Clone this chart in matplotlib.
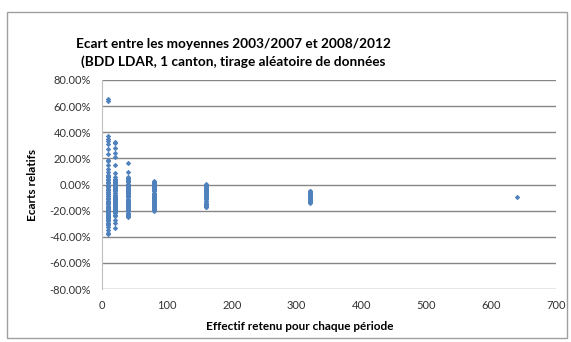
import matplotlib.pyplot as plt
from matplotlib.patches import Rectangle
from matplotlib.ticker import FuncFormatter

# effectif retenu pour chaque periode
effectifs = [10, 20, 40, 80, 160, 320, 640]

# ecarts relatifs (%) pour chaque effectif
ecarts_10 = [65.5, 64.0, 37.0, 35.2, 33.4, 31.0, 27.0, 23.5, 19.0, 17.8, 15.2,
             11.6, 9.5, 7.3, 6.2, 5.4, 4.1, 3.5, 2.2, 1.6, 0.9, -0.2, -0.8,
             -1.7, -2.1, -3.3, -3.9, -4.4, -5.6, -6.0, -7.1, -7.5, -8.6, -9.0,
             -10.1, -10.9, -11.4, -12.5, -13.1, -13.8, -14.9, -15.3, -16.4,
             -16.9, -17.8, -18.6, -19.2, -20.3, -20.8, -21.9, -22.4, -23.1,
             -24.2, -24.9, -25.6, -26.7, -27.2, -28.3, -29.1, -30.4, -31.2,
             -32.6, -35.1, -37.4, -38.0]
ecarts_20 = [32.8, 31.5, 27.6, 24.0, 20.7, 15.0, 9.1, 5.8, 4.2, 3.6, 2.8, 1.9,
             1.1, 0.3, -0.6, -1.4, -2.0, -2.9, -3.7, -4.5, -5.2, -6.3, -6.8,
             -7.7, -8.5, -9.4, -10.2, -10.8, -11.9, -12.6, -13.3, -14.2,
             -15.0, -15.7, -16.6, -17.3, -18.1, -19.0, -19.8, -20.5, -21.4,
             -22.2, -23.0, -24.1, -26.8, -29.4, -33.5]
ecarts_40 = [16.5, 9.8, 6.0, 4.9, 4.1, 3.3, 2.5, 1.6, 0.7, -0.1, -1.0, -1.8,
             -2.6, -3.5, -4.3, -5.0, -5.9, -6.7, -7.4, -8.3, -9.1, -9.9,
             -10.8, -11.6, -12.3, -13.2, -14.0, -14.9, -15.6, -16.5, -17.2,
             -18.1, -18.9, -19.8, -20.6, -21.5, -22.3, -23.2, -24.0, -24.6]
ecarts_80 = [2.4, 1.7, 0.9, 0.2, -0.6, -1.4, -2.1, -2.9, -3.8, -4.5, -5.3,
             -6.2, -6.9, -7.7, -8.6, -9.3, -10.1, -11.0, -11.7, -12.5, -13.4,
             -14.1, -14.9, -15.8, -16.5, -17.3, -18.2, -18.9, -19.7, -20.5]
ecarts_160 = [0.3, -0.4, -1.2, -2.0, -2.8, -3.6, -4.3, -5.1, -5.9, -6.8, -7.5,
              -8.3, -9.1, -9.9, -10.6, -11.4, -12.3, -13.0, -13.8, -14.6,
              -15.4, -16.2, -16.9, -17.6]
ecarts_320 = [-4.6, -5.3, -6.0, -6.7, -7.5, -8.2, -8.9, -9.7, -10.4, -11.1,
              -11.9, -12.6, -13.4, -14.2]
ecarts_640 = [-9.3]

series = [ecarts_10, ecarts_20, ecarts_40, ecarts_80, ecarts_160, ecarts_320, ecarts_640]

plt.rcParams['font.family'] = ['Lato', 'DejaVu Sans']

fig = plt.figure(figsize=(5.71, 3.42), dpi=100)
ax = fig.add_axes([102 / 571, 53 / 342, 454 / 571, 209 / 342])

for n, vals in zip(effectifs, series):
    ax.plot([n] * len(vals), vals, linestyle='none', marker='D', markersize=2.2,
            color='#4F81BD', markeredgecolor='#4F81BD', markeredgewidth=0.6)

ax.set_xlim(0, 700)
ax.set_ylim(-80, 80)
ax.set_xticks(range(0, 701, 100))
ax.set_yticks(range(-80, 81, 20))
ax.yaxis.set_major_formatter(FuncFormatter(lambda v, p: '%.2f%%' % v))
ax.grid(axis='y', color='#868686', linewidth=1)
ax.set_axisbelow(True)
for side in ['top', 'right', 'bottom']:
    ax.spines[side].set_visible(False)
ax.spines['left'].set_color('#BFBFBF')
ax.tick_params(length=0, labelsize=8, colors='#333333', pad=8)

ax.set_ylabel('Ecarts relatifs', fontsize=8.5, fontweight='bold', labelpad=8)
fig.text(300 / 571, 1 - 326 / 342, 'Effectif retenu pour chaque période',
         fontsize=8.5, fontweight='bold', ha='center', va='center')

fig.text(233 / 571, 1 - 53 / 342,
         'Ecart entre les moyennes 2003/2007 et 2008/2012\n'
         '(BDD LDAR, 1 canton, tirage aléatoire de données',
         fontsize=9.8, fontweight='bold', ha='center', va='center', linespacing=1.45)

# cadre de la zone de graphique
fig.patches.append(Rectangle((7 / 571, 4 / 342), 560 / 571, 326 / 342,
                             transform=fig.transFigure, fill=False,
                             edgecolor='#A0A0A0', linewidth=1))

fig.savefig('out.png', dpi=100)
